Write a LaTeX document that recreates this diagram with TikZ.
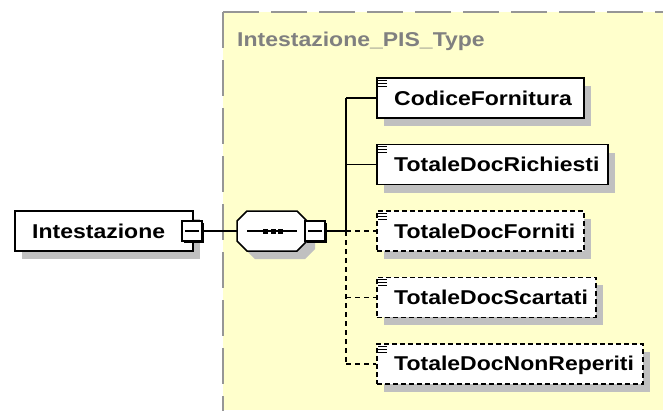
\documentclass[tikz,border=0pt]{standalone}
\usepackage{fontspec}
\setmainfont{Liberation Sans}
\newfontfamily\lbl[FakeStretch=1.15]{Liberation Sans}
\usetikzlibrary{shadows,calc}
\definecolor{bgyellow}{RGB}{255,255,204}
\definecolor{shgray}{RGB}{192,192,192}
\definecolor{bordgray}{RGB}{150,150,150}
\definecolor{titlegray}{RGB}{128,128,128}
\begin{document}
\begin{tikzpicture}[x=1pt,y=-1pt,
  elbox/.style={draw=black, line width=1.5pt, fill=white, minimum height=40pt, inner sep=0pt, anchor=west,
    drop shadow={shadow xshift=7pt, shadow yshift=-8pt, fill=shgray, opacity=1}},
  optbox/.style={elbox, dash pattern=on 5pt off 3pt},
  lbltext/.style={font=\lbl\bfseries\fontsize{20}{24}\selectfont, inner sep=0pt, anchor=base west},
  minusbox/.style={draw=black, line width=1.3pt, fill=white, minimum size=20pt, inner sep=0pt,
    drop shadow={shadow xshift=2pt, shadow yshift=-2pt, fill=black, opacity=1}},
  conn/.style={draw=black, line width=1.5pt},
  optconn/.style={conn, dash pattern=on 5pt off 4pt},
  iconline/.style={draw=black, line width=1pt}
]
\useasboundingbox (0,0) rectangle (663,410);
% type background
\fill[bgyellow] (223,12) rectangle (663,410);
\draw[bordgray, line width=2pt, dash pattern=on 36pt off 12pt] (223,12) -- (223,412);
\draw[bordgray, line width=2pt, dash pattern=on 36pt off 12pt] (223,12) -- (665,12);
\node[lbltext, text=titlegray] (title) at (237,46) {Intestazione\_PIS\_Type};

% main element
\node[elbox, minimum width=178pt] (int) at (14,231) {};
\node[lbltext] (intt) at ([xshift=18pt,yshift=-7pt]int.west) {Intestazione};
\node[minusbox] (intm) at (192,231) {};
\draw[line width=1.5pt] ([xshift=4pt]intm.west) -- ([xshift=-4pt]intm.east);

% sequence compositor
\node[minimum width=70pt, minimum height=40pt, inner sep=0pt] (seq) at (272,231) {};
\fill[shgray] (245,229) -- (255,219) -- (305,219) -- (315,229) -- (315,249) -- (305,259) -- (255,259) -- (245,249) -- cycle;
\filldraw[fill=white, draw=black, line width=1.5pt] (237,221) -- (247,211) -- (297,211) -- (307,221) -- (307,241) -- (297,251) -- (247,251) -- (237,241) -- cycle;
\draw[line width=1.5pt] (247,231) -- (297,231);
\foreach \cx in {265.5,273,280.5} \fill (\cx-2.5,228.5) rectangle (\cx+2.5,233.5);
\node[minusbox] (seqm) at (315,231) {};
\draw[line width=1.5pt] ([xshift=4pt]seqm.west) -- ([xshift=-4pt]seqm.east);

\draw[conn] (intm.east) -- (seq.west);

% trunk
\coordinate (tr1) at (346,98.2);
\coordinate (tr2) at (346,164.6);
\coordinate (tr3) at (346,231);
\coordinate (tr4) at (346,297.4);
\coordinate (tr5) at (346,363.8);
\draw[conn] (seqm.east) -- (tr3);
\draw[conn] (tr1) -- (tr3);
\draw[optconn] (tr3) -- (tr5);

% children
\node[elbox, minimum width=207pt] (cf) at (376,98.2) {};
\node[optbox, minimum width=207pt] (tdf) at (376,231) {};
\node[elbox, minimum width=231pt] (tdr) at (376,164.6) {};
\node[optbox, minimum width=219pt] (tds) at (376,297.4) {};
\node[optbox, minimum width=266pt] (tdn) at (376,363.8) {};

\draw[conn] (tr1) -- (cf.west);
\draw[conn] (tr2) -- (tdr.west);
\draw[optconn] (tr3) -- (tdf.west);
\draw[optconn] (tr4) -- (tds.west);
\draw[optconn] (tr5) -- (tdn.west);

\node[lbltext] (cft) at ([xshift=18pt,yshift=-7pt]cf.west) {CodiceFornitura};
\node[lbltext] (tdrt) at ([xshift=18pt,yshift=-7pt]tdr.west) {TotaleDocRichiesti};
\node[lbltext] (tdft) at ([xshift=18pt,yshift=-7pt]tdf.west) {TotaleDocForniti};
\node[lbltext] (tdst) at ([xshift=18pt,yshift=-7pt]tds.west) {TotaleDocScartati};
\node[lbltext] (tdnt) at ([xshift=18pt,yshift=-7pt]tdn.west) {TotaleDocNonReperiti};

\foreach \b in {cf,tdr,tdf,tds,tdn}
  \foreach \dy in {3,6,9}
    \draw[iconline] ([xshift=2pt,yshift=-\dy pt]\b.north west) -- ++(9,0);
\end{tikzpicture}
\end{document}
